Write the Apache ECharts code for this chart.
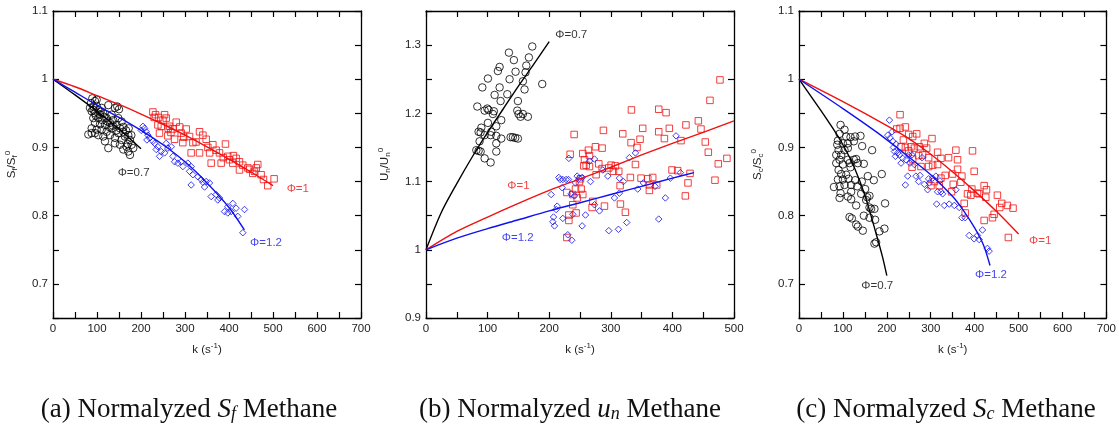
<!DOCTYPE html>
<html><head><meta charset="utf-8">
<script src="https://cdn.jsdelivr.net/npm/echarts@6/dist/echarts.min.js"></script>
<style>html,body{margin:0;padding:0;background:#fff}#c{width:1119px;height:428px}</style>
</head><body><div id="c"></div>
<script>
// ---------- Panel (a): Sf/Sf0 ----------
const aBlack=[[89.4,0.972],[95.4,0.968],[86.3,0.965],[91.6,0.960],[99.2,0.961],[103,0.955],[87.9,0.953],[95.4,0.950],[106.8,0.948],[114.3,0.950],[91.6,0.943],[103,0.943],[112.1,0.940],[121.9,0.943],[133.3,0.948],[140.8,0.958],[137,0.940],[129.5,0.936],[118.1,0.933],[106.8,0.934],[95.4,0.936],[87.9,0.928],[99.2,0.926],[110.6,0.926],[121.9,0.923],[133.3,0.928],[144.6,0.933],[152.2,0.928],[148.4,0.921],[159.7,0.923],[163.5,0.916],[171.1,0.918],[156,0.911],[140.8,0.914],[129.5,0.918],[114.3,0.916],[103,0.918],[80.3,0.919],[87.9,0.921],[95.4,0.921],[118.1,0.909],[174.9,0.911],[167.3,0.901],[178.7,0.904],[182.4,0.899],[171.1,0.894],[174.9,0.889],[140.8,0.906],[152.2,0.904],[159.7,0.897],[125.7,0.899],[110.6,0.958],[99.2,0.970],[125.7,0.962],[148.4,0.943],[156,0.938],[146,0.960],[150,0.956],[84,0.958],[92,0.955],[97,0.947],[108,0.952],[116,0.945],[124,0.938],[128,0.930],[136,0.932],[144,0.925],[160,0.930],[166,0.925],[172,0.928],[178,0.918],[170,0.905]];
const aRed=[[227,0.952],[233,0.948],[230,0.944],[253.6,0.948],[257.3,0.943],[280,0.937],[238.4,0.933],[246,0.931],[265,0.931],[272.5,0.927],[302.7,0.927],[291.4,0.921],[333,0.923],[340.6,0.918],[261,0.917],[276.3,0.912],[310.3,0.916],[317.9,0.907],[348.1,0.912],[363.3,0.904],[392,0.905],[314,0.892],[333,0.892],[370.8,0.896],[378.4,0.892],[397.3,0.887],[401,0.882],[359.5,0.877],[382.2,0.877],[423.8,0.879],[431.4,0.874],[442.7,0.870],[423.8,0.867],[465.4,0.875],[457.9,0.865],[473,0.860],[478.3,0.853],[488.1,0.844],[502.5,0.854],[454,0.862],[408.7,0.877],[416.2,0.884],[242,0.921],[250,0.940],[268,0.922],[288,0.930],[297,0.915],[325,0.908],[352,0.900],[356,0.892],[387,0.885],[410,0.888],[447,0.868],[462,0.870],[295,0.907],[240,0.944],[262,0.928]];
const aBlue=[[204.4,0.931],[208.2,0.928],[200.6,0.925],[212,0.923],[215.7,0.918],[219.5,0.914],[213.4,0.911],[227.1,0.909],[230.9,0.906],[238.4,0.901],[234.6,0.897],[246,0.894],[242.2,0.887],[257.3,0.906],[261.1,0.899],[268.7,0.901],[253.6,0.892],[272.5,0.887],[276.3,0.879],[283.8,0.877],[291.4,0.879],[295.2,0.872],[306.5,0.877],[314,0.872],[310.3,0.865],[317.9,0.860],[329.2,0.857],[336.8,0.853],[340.6,0.849],[314,0.845],[348.1,0.850],[355.7,0.848],[344.4,0.842],[359.5,0.828],[370.8,0.831],[378.4,0.826],[374.6,0.823],[389.8,0.806],[397.3,0.813],[408.7,0.818],[416.2,0.811],[404.9,0.806],[420,0.799],[435.2,0.809],[431.4,0.775],[397.3,0.804]];
const aFitBlack=[[0,1],[50,0.977],[100,0.953],[150,0.927],[200,0.898]];
const aFitRed=[[0,1],[50,0.989],[100,0.976],[150,0.963],[200,0.949],[250,0.934],[300,0.918],[350,0.901],[400,0.883],[450,0.864],[500,0.844]];
const aFitBlue=[[0,1],[50,0.981],[100,0.962],[150,0.944],[200,0.925],[250,0.904],[300,0.879],[350,0.848],[400,0.812],[435,0.779]];

// ---------- Panel (b): Un/Un0 ----------
const bBlack=[[172.5,1.298],[134.6,1.289],[167,1.282],[142.7,1.278],[119.5,1.268],[116.7,1.262],[162.8,1.270],[161.6,1.260],[145.4,1.261],[100.5,1.251],[135.7,1.250],[157.3,1.247],[188.7,1.243],[91.4,1.238],[119.5,1.238],[160,1.235],[132,1.228],[111.4,1.227],[121.1,1.218],[149.2,1.218],[83.3,1.210],[99.5,1.207],[101.6,1.205],[95.2,1.204],[108.6,1.199],[110.2,1.203],[148.2,1.204],[150.3,1.199],[157.3,1.199],[165.4,1.195],[153.5,1.195],[122.2,1.190],[100.5,1.186],[89.8,1.179],[114.1,1.181],[85.4,1.173],[88.7,1.172],[106,1.173],[104.9,1.168],[95.2,1.168],[114.1,1.167],[137.3,1.165],[141,1.165],[144.9,1.164],[149.2,1.163],[122.2,1.163],[87,1.159],[114.1,1.156],[81.7,1.146],[85.4,1.145],[88.7,1.144],[114.1,1.144],[95.2,1.134],[104.9,1.128]];
const bRed=[[477.2,1.249],[461,1.219],[333.5,1.205],[377.8,1.206],[389.7,1.201],[240.5,1.169],[288,1.175],[319.4,1.170],[351.8,1.178],[377.8,1.173],[395,1.178],[422,1.183],[442.1,1.189],[446.4,1.177],[387,1.163],[347.5,1.162],[332.9,1.157],[414,1.160],[453.4,1.158],[342.6,1.150],[275.1,1.151],[285.9,1.149],[234,1.140],[254.5,1.141],[263.7,1.146],[265.4,1.138],[257.3,1.132],[260,1.124],[256.2,1.123],[265.4,1.122],[280.5,1.126],[285.9,1.119],[300.5,1.124],[307.5,1.123],[296.7,1.120],[304.3,1.115],[312.9,1.115],[340,1.125],[399.4,1.117],[408.6,1.116],[428.6,1.112],[458.3,1.143],[474.5,1.126],[488.5,1.134],[469.1,1.102],[425.3,1.098],[421,1.079],[331.8,1.106],[349.1,1.105],[360,1.104],[368,1.106],[362.6,1.095],[362.6,1.087],[374.5,1.095],[315.1,1.094],[242.7,1.089],[251.9,1.089],[228.6,1.084],[238.3,1.081],[254.5,1.081],[245.4,1.076],[270.8,1.071],[269.7,1.062],[238.3,1.066],[289.7,1.064],[315.6,1.067],[323.7,1.055],[243.7,1.054],[231.9,1.051],[231.9,1.043],[228.6,1.018],[276.2,1.110],[250.8,1.104],[249.1,1.100]];
const bBlue=[[405.9,1.167],[340,1.142],[330.2,1.135],[273.5,1.133],[265.4,1.130],[231.9,1.134],[287,1.117],[295.1,1.108],[314,1.105],[320.5,1.100],[245.4,1.108],[249.1,1.105],[253.5,1.106],[215.6,1.106],[217.8,1.103],[222.1,1.103],[227.5,1.103],[231.3,1.103],[242.7,1.098],[267,1.100],[221,1.091],[235.6,1.082],[203.2,1.081],[241,1.079],[305.9,1.076],[314,1.083],[343.7,1.089],[352.9,1.098],[371.8,1.093],[388.6,1.076],[396.7,1.105],[412.9,1.113],[212.9,1.064],[211.3,1.059],[273.5,1.066],[281.6,1.057],[258.9,1.051],[238.3,1.052],[222.1,1.046],[207,1.048],[205.9,1.041],[208.6,1.035],[253.5,1.035],[325.9,1.040],[377.8,1.045],[296.7,1.028],[312.4,1.030],[230.2,1.022],[236.7,1.014]];
const bFitBlack=[[0,1],[25,1.055],[50,1.097],[75,1.136],[100,1.172],[125,1.206],[150,1.24],[175,1.272],[200,1.305]];
const bFitRed=[[0,1],[50,1.027],[100,1.048],[150,1.068],[200,1.087],[250,1.104],[300,1.121],[350,1.139],[400,1.156],[450,1.172],[500,1.189]];
const bFitBlue=[[0,1],[50,1.017],[100,1.031],[150,1.044],[200,1.057],[250,1.069],[300,1.081],[350,1.093],[400,1.105],[435,1.113]];

// ---------- Panel (c): Sc/Sc0 ----------
const cBlack=[[94.6,0.933],[103.7,0.926],[92.4,0.920],[88.6,0.910],[107.5,0.916],[117.3,0.915],[127.9,0.916],[140,0.917],[124.9,0.909],[111.3,0.906],[99.9,0.906],[87.1,0.904],[90.1,0.896],[103.7,0.896],[111.3,0.899],[143.8,0.902],[166.5,0.896],[84.8,0.889],[96.1,0.889],[111.3,0.882],[92.4,0.882],[84.8,0.877],[99.9,0.875],[115.1,0.877],[124.9,0.882],[130.2,0.883],[134,0.877],[147.6,0.876],[117.3,0.871],[90.1,0.867],[96.1,0.861],[107.5,0.860],[99.9,0.853],[88.6,0.853],[112.8,0.854],[127.9,0.852],[79.5,0.842],[92.4,0.843],[103.7,0.845],[118.8,0.845],[132.5,0.843],[143,0.850],[156.7,0.858],[170.3,0.852],[188.5,0.861],[150.6,0.839],[118.8,0.835],[94.6,0.833],[92.4,0.826],[111.3,0.828],[118.8,0.824],[141.5,0.832],[155.2,0.827],[160.5,0.829],[152.9,0.823],[130.2,0.815],[164.2,0.810],[160.5,0.812],[171.8,0.810],[196,0.818],[147.6,0.800],[160.5,0.797],[173.3,0.794],[115.1,0.798],[120.4,0.796],[130.2,0.787],[134,0.784],[145.3,0.778],[194.5,0.781],[183.2,0.777],[175.6,0.761],[171.8,0.759]];
const cRed=[[230.1,0.948],[222.5,0.927],[230.1,0.928],[242.2,0.930],[249.8,0.919],[237.7,0.911],[258.9,0.916],[268,0.920],[285.4,0.906],[302.8,0.913],[232.4,0.901],[242.2,0.900],[255.1,0.901],[249.8,0.895],[262.7,0.899],[274,0.901],[290.7,0.899],[272.5,0.888],[258.9,0.883],[281.6,0.889],[295.2,0.885],[315.6,0.893],[323.2,0.884],[340.6,0.885],[357.2,0.896],[361,0.882],[395.1,0.895],[277.8,0.872],[295.2,0.872],[304.3,0.874],[315.6,0.875],[257.4,0.871],[361,0.868],[333,0.859],[349.7,0.861],[370.9,0.858],[398.9,0.865],[323.2,0.855],[308.1,0.850],[300.5,0.844],[319.4,0.844],[351.2,0.846],[368.6,0.849],[383.7,0.832],[391.3,0.830],[410.2,0.832],[421.6,0.844],[426.9,0.838],[393.6,0.839],[406.4,0.833],[451.8,0.830],[425.3,0.827],[376.2,0.818],[461.7,0.818],[474.5,0.815],[487.4,0.811],[457.1,0.812],[444.3,0.802],[440.5,0.797],[378.4,0.804],[421.6,0.793],[476.8,0.768],[347.4,0.835]];
const cBlue=[[205.9,0.940],[212,0.923],[202.1,0.918],[207.4,0.914],[213.5,0.909],[221,0.905],[215,0.900],[217.3,0.894],[224.8,0.892],[219.5,0.887],[228.6,0.889],[236.2,0.884],[232.4,0.877],[243.7,0.882],[249.8,0.889],[257.4,0.889],[252.8,0.877],[262.7,0.875],[247.5,0.858],[242.2,0.845],[266.4,0.858],[275.5,0.859],[272.5,0.850],[285.4,0.846],[295.2,0.854],[304.3,0.855],[296.7,0.848],[292.9,0.838],[311.8,0.858],[280.1,0.885],[315.6,0.835],[323.2,0.835],[327,0.832],[313.4,0.817],[330.8,0.815],[342.1,0.817],[353.5,0.815],[364.8,0.812],[357.2,0.838],[370.9,0.797],[378.4,0.797],[387.5,0.771],[398.9,0.766],[406.4,0.771],[417.8,0.779],[410.2,0.765],[429.1,0.752],[432.9,0.748],[320.9,0.851]];
const cFitBlack=[[0,1],[25,0.977],[50,0.954],[75,0.93],[100,0.904],[125,0.872],[150,0.83],[175,0.775],[190,0.74],[200,0.712]];
const cFitRed=[[0,1],[100,0.967],[200,0.932],[250,0.913],[300,0.89],[350,0.864],[400,0.836],[450,0.806],[500,0.773]];
const cFitBlue=[[0,1],[100,0.957],[180,0.921],[250,0.886],[300,0.86],[350,0.828],[375,0.807],[400,0.782],[420,0.757],[435,0.727]];

// axis ranges / labels
const xMaxes=[700,500,700];
const yRanges=[[0.65,1.1],[0.9,1.35],[0.65,1.1]];
const yNames=['S{sub|f}/S{sub|f}{sup|0}','U{sub|n}/U{sub|n}{sup|0}','S{sub|c}/S{sub|c}{sup|0}'];
const captions=['(a) Normalyzed {i|S}{s|f} Methane','(b) Normalyzed {i|u}{s|n} Methane','(c) Normalyzed {i|S}{s|c} Methane'];

const RED='#f01010', BLUE='#1010f0', BLACK='#000';
const FONT='Liberation Sans';
const grids=[53,426,799].map(l=>({left:l,top:11,width:308,height:307}));

const xAxes=[], yAxes=[];
const lineSt={color:'#000',width:1.3};
const tickSt={show:true,inside:true,length:6,lineStyle:{color:'#000',width:1.2}};
const xFmt=v=>(Math.round(v)%100===0?String(Math.round(v)):'');
const yFmt=v=>{const r=Math.round(v*100);return r%10===0?String(r/100):'';};
for(let g=0;g<3;g++){
  const xb={type:'value',gridIndex:g,min:0,max:xMaxes[g],interval:50,splitLine:{show:false},axisLine:{onZero:false,lineStyle:lineSt},axisTick:tickSt};
  xAxes.push(Object.assign({},xb,{position:'bottom',axisLabel:{formatter:xFmt,color:'#222',fontFamily:FONT,fontSize:11.5,margin:5},
    name:'k (s{sup|-1})',nameLocation:'middle',nameGap:24,
    nameTextStyle:{color:'#222',fontFamily:FONT,fontSize:11.5,rich:{sup:{fontSize:8,fontFamily:FONT,color:'#222',verticalAlign:'top',padding:[0,0,7,0]}}}}));
  xAxes.push(Object.assign({},xb,{position:'top',axisLabel:{show:false}}));
  const yb={type:'value',gridIndex:g,min:yRanges[g][0],max:yRanges[g][1],interval:0.05,splitLine:{show:false},axisLine:{onZero:false,lineStyle:lineSt},axisTick:tickSt};
  yAxes.push(Object.assign({},yb,{position:'left',axisLabel:{formatter:yFmt,color:'#222',fontFamily:FONT,fontSize:11.5,margin:5},
    name:yNames[g],nameLocation:'middle',nameGap:34,
    nameTextStyle:{color:'#222',fontFamily:FONT,fontSize:11.5,rich:{
      sub:{fontSize:8,fontFamily:FONT,color:'#222',verticalAlign:'bottom',padding:[5,0,0,0]},
      sup:{fontSize:8,fontFamily:FONT,color:'#222',verticalAlign:'top',padding:[0,0,7,0]}}}}));
  yAxes.push(Object.assign({},yb,{position:'right',axisLabel:{show:false}}));
}

function pts(data,g,sym,color,size){
  return {type:'scatter',xAxisIndex:2*g,yAxisIndex:2*g,data:data,symbol:sym,symbolSize:size,
    itemStyle:{color:'transparent',borderColor:color,borderWidth:1},emphasis:{disabled:true},silent:true,z:2};
}
function fit(data,g,color){
  return {type:'line',xAxisIndex:2*g,yAxisIndex:2*g,data:data,smooth:0.3,showSymbol:false,symbol:'none',
    lineStyle:{color:color,width:1.4},silent:true,z:3};
}
function notes(g,items){
  return {type:'scatter',xAxisIndex:2*g,yAxisIndex:2*g,symbolSize:0,silent:true,z:4,
    data:items.map(it=>({value:[it[0],it[1]],name:it[2],label:{color:it[3]}})),
    label:{show:true,position:'right',distance:0,formatter:'{b}',fontFamily:FONT,fontSize:11.5}};
}

const series=[
  pts(aBlack,0,'circle',BLACK,7.5),pts(aRed,0,'rect',RED,6.5),pts(aBlue,0,'diamond',BLUE,6.5),
  fit(aFitBlack,0,BLACK),fit(aFitRed,0,RED),fit(aFitBlue,0,BLUE),
  notes(0,[[147,0.863,'Φ=0.7',BLACK],[531,0.839,'Φ=1',RED],[448,0.760,'Φ=1.2',BLUE]]),
  pts(bBlack,1,'circle',BLACK,7.5),pts(bRed,1,'rect',RED,6.5),pts(bBlue,1,'diamond',BLUE,6.5),
  fit(bFitBlack,1,BLACK),fit(bFitRed,1,RED),fit(bFitBlue,1,BLUE),
  notes(1,[[210,1.315,'Φ=0.7',BLACK],[132,1.094,'Φ=1',RED],[123,1.018,'Φ=1.2',BLUE]]),
  pts(cBlack,2,'circle',BLACK,7.5),pts(cRed,2,'rect',RED,6.5),pts(cBlue,2,'diamond',BLUE,6.5),
  fit(cFitBlack,2,BLACK),fit(cFitRed,2,RED),fit(cFitBlue,2,BLUE),
  notes(2,[[142,0.697,'Φ=0.7',BLACK],[524,0.763,'Φ=1',RED],[401,0.713,'Φ=1.2',BLUE]])
];

const capX=[189,570,946];
const graphic=captions.map((t,i)=>({type:'text',x:capX[i],y:410,silent:true,
  style:{text:t,align:'center',verticalAlign:'middle',fontFamily:'Liberation Serif',fontSize:27,fill:'#111',
    rich:{i:{fontFamily:'Liberation Serif',fontStyle:'italic',fontSize:27,fill:'#111'},
          s:{fontFamily:'Liberation Serif',fontStyle:'italic',fontSize:18,fill:'#111',verticalAlign:'bottom',padding:[9,0,0,0]}}}}));

const chart=echarts.init(document.getElementById('c'),null,{renderer:'canvas'});
chart.setOption({animation:false,backgroundColor:'#fff',grid:grids,xAxis:xAxes,yAxis:yAxes,series:series,graphic:graphic});
</script></body></html>
